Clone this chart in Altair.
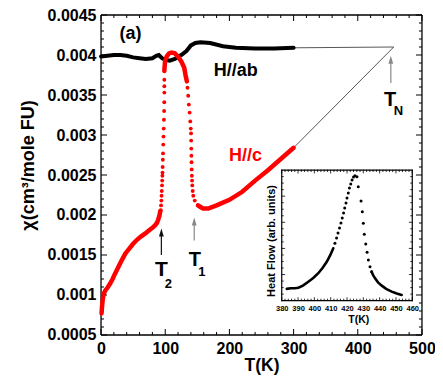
import altair as alt
import pandas as pd

# ---------------- data ----------------
black_T = [0, 10, 20, 30, 40, 50, 60, 70, 80, 86, 90, 95, 100, 107, 115, 125,
           133, 140, 147, 155, 170, 190, 210, 240, 270, 300]
black_chi = [0.00398, 0.00399, 0.00400, 0.00400, 0.00399, 0.00397, 0.00396,
             0.00395, 0.00396, 0.00399, 0.00400, 0.00396, 0.00394, 0.00393,
             0.00395, 0.00400, 0.00405, 0.00412, 0.00415, 0.00416, 0.00415,
             0.00411, 0.00409, 0.00408, 0.00408, 0.00409]
red_low_T = [0.8, 1.5, 2.5, 3.5, 5, 7, 10, 14, 18, 22, 27, 32, 38, 44, 50, 56,
             62, 69, 75, 80, 84, 87, 89, 91, 92.3]
red_low_chi = [0.00077, 0.00085, 0.00093, 0.00099, 0.00103, 0.00106, 0.00109,
               0.00114, 0.00120, 0.00127, 0.00135, 0.00143, 0.00152, 0.00158,
               0.00164, 0.00169, 0.00173, 0.00177, 0.00181, 0.00184, 0.00187,
               0.00190, 0.00194, 0.00199, 0.00205]
red_arc_T = [98.6, 99.7, 102.2, 105.9, 110, 115, 120, 125, 129.6, 131.6, 133.7]
red_arc_chi = [0.00380, 0.00392, 0.00398, 0.00402, 0.00403, 0.00402, 0.00398,
               0.00392, 0.00384, 0.00375, 0.00367]
red_high_T = [151, 155, 159, 167, 180, 200, 220, 240, 260, 280, 300]
red_high_chi = [0.00212, 0.00210, 0.00208, 0.00208, 0.00212, 0.00219, 0.00229,
                0.00243, 0.00256, 0.00270, 0.00284]
red_dot_T = [93, 93.5, 94, 94.3, 94.6, 95, 95.3, 95.6, 95.8, 96, 96.3, 96.6,
             96.9, 97.3, 97.6, 98, 98.3, 98.5, 98.6, 98.6, 98.6,
             134.7, 135.8, 136.8, 138, 139, 139.8, 140.2, 140.4, 140.6, 140.8,
             141, 141.2, 141.5, 141.8, 142.2, 142.8, 143.7, 146, 151]
red_dot_chi = [0.00206, 0.00212, 0.00218, 0.00224, 0.00230, 0.00237, 0.00243,
               0.00249, 0.00253, 0.00260, 0.00269, 0.00277, 0.00288, 0.00298,
               0.00308, 0.00319, 0.00330, 0.00341, 0.00353, 0.00361, 0.00369,
               0.00359, 0.00349, 0.00338, 0.00328, 0.00317, 0.00308, 0.00302,
               0.00293, 0.00283, 0.00274, 0.00266, 0.00257, 0.00249, 0.00243,
               0.00237, 0.00230, 0.00224, 0.00218, 0.00212]
guide_seg = ["ab", "ab", "c", "c"]
guide_T = [300, 456, 300, 456]
guide_chi = [0.00409, 0.00410, 0.00284, 0.00410]
arrow_T = [94, 145.2, 451.5]
arrow_lo = [0.00150, 0.00168, 0.00365]
arrow_hi = [0.00178, 0.00192, 0.00394]
arrow_color = ["#111111", "#888888", "#888888"]
label_text = ["(a)", "H//ab", "H//c", "T", "2", "T", "1", "T", "N"]
label_T = [46, 210, 225, 94, 105, 146, 157, 450.5, 463.5]
label_chi = [0.00426, 0.00380, 0.00274, 0.00131, 0.00114, 0.00144, 0.00129,
             0.00344, 0.00330]
label_size = [18, 18, 18, 21, 13, 20, 13, 20, 13]
label_color = ["black", "black", "red", "black", "black", "black", "black",
               "black", "black"]
inset_lo_T = [383.1, 385.5, 388, 390.2, 393, 396.3, 399.5, 402.4, 405, 407.6,
              409.8, 411.6]
inset_lo_hf = [0.090, 0.095, 0.095, 0.099, 0.115, 0.145, 0.175, 0.210, 0.250,
               0.298, 0.350, 0.401]
inset_dot_T = [412.6, 413.6, 414.5, 415.4, 416.3, 417.1, 417.9, 418.6, 419.4,
               420.0, 420.8, 421.5, 422.3, 423.1, 424.0, 424.9, 426.1, 426.9,
               428.6, 429.4, 430.0, 430.6, 431.5, 432.3, 433.1, 434.1, 435.1]
inset_dot_hf = [0.440, 0.480, 0.518, 0.556, 0.594, 0.633, 0.671, 0.709, 0.748,
                0.786, 0.824, 0.862, 0.893, 0.923, 0.946, 0.956, 0.949, 0.872,
                0.763, 0.681, 0.592, 0.508, 0.434, 0.370, 0.311, 0.260, 0.222]
inset_hi_T = [435.1, 436, 437.2, 439, 441.3, 444, 447.4, 450.5, 453.5]
inset_hi_hf = [0.222, 0.195, 0.171, 0.140, 0.115, 0.090, 0.069, 0.055, 0.044]

x_major = [0, 100, 200, 300, 400, 500]
x_minor = [v for v in range(0, 501, 20) if v % 100 != 0]
y_major = [0.0005, 0.001, 0.0015, 0.002, 0.0025, 0.003, 0.0035, 0.004, 0.0045]
y_minor = [round(0.0005 + 0.0001 * i, 4) for i in range(41)]
y_minor = [v for v in y_minor if v not in y_major]
ix_major = [380, 390, 400, 410, 420, 430, 440, 450, 460]
ix_minor = [v for v in range(380, 461, 2) if v % 10 != 0]
iy_major = [0.2, 0.4, 0.6, 0.8]
iy_minor = [0.05, 0.1, 0.15, 0.25, 0.3, 0.35, 0.45, 0.5, 0.55, 0.65, 0.7,
            0.75, 0.85, 0.9, 0.95]

# ---------------- layout ----------------
FONT = "Liberation Sans"
W, H = 321, 320
XD, YD = [0, 500], [0.0005, 0.0045]          # frame extents (data units)
IXD, IYD = [380, 460], [0, 1]
# scale domains a hair wider than the frames, so no frame point sits exactly
# on a scale boundary
XSC = alt.Scale(domain=[-0.05, 500.05], nice=False, zero=False)
YSC = alt.Scale(domain=[0.0005 - 1e-8, 0.0045 + 1e-8], nice=False, zero=False)
IX0, IX1 = 180.7, 311.3
IY0, IY1 = 285.7, 155.0
IXSC = alt.Scale(domain=[379.98, 460.02], range=[IX0, IX1], nice=False,
                 zero=False)
IYSC = alt.Scale(domain=[-0.0003, 1.0003], range=[IY0, IY1], nice=False,
                 zero=False)


def X(axis=None, scale=XSC, field="T"):
    return alt.X(f"{field}:Q", scale=scale, axis=axis, title=None)


def Y(axis=None, scale=YSC, field="chi"):
    return alt.Y(f"{field}:Q", scale=scale, axis=axis, title=None)


def frame_segments(xd, yd, xvals, yvals, px_x, px_y, major_len, minor_len,
                   prefix, frame_w, tick_w):
    """Frame edges and inward ticks as two-point line segments."""
    segs = [
        ((xd[0], yd[0]), (xd[1], yd[0]), frame_w),
        ((xd[0], yd[1]), (xd[1], yd[1]), frame_w),
        ((xd[0], yd[0]), (xd[0], yd[1]), frame_w),
        ((xd[1], yd[0]), (xd[1], yd[1]), frame_w),
    ]
    for vals, ln in ((xvals[0], major_len), (xvals[1], minor_len)):
        for v in vals:
            segs.append(((v, yd[0]), (v, yd[0] + ln * px_y), tick_w))
            segs.append(((v, yd[1]), (v, yd[1] - ln * px_y), tick_w))
    for vals, ln in ((yvals[0], major_len), (yvals[1], minor_len)):
        for v in vals:
            segs.append(((xd[0], v), (xd[0] + ln * px_x, v), tick_w))
            segs.append(((xd[1], v), (xd[1] - ln * px_x, v), tick_w))
    rows = []
    for i, (p, q, w) in enumerate(segs):
        rows.append((p[0], p[1], f"{prefix}{i}", "black", w))
        rows.append((q[0], q[1], f"{prefix}{i}", "black", w))
    return rows


main_rows = [(t, c, "g" + s, "#444444", 0.9)
             for t, c, s in zip(guide_T, guide_chi, guide_seg)]
main_rows += frame_segments(XD, YD, (x_major, x_minor), (y_major, y_minor),
                            (XD[1] - XD[0]) / W, (YD[1] - YD[0]) / H, 6, 3,
                            "m", 1.3, 1.0)
df_main_seg = pd.DataFrame(main_rows, columns=["T", "chi", "seg", "col", "sw"])

df_black = pd.DataFrame({"T": black_T, "chi": black_chi})
df_red_line = pd.concat([
    pd.DataFrame({"T": red_low_T, "chi": red_low_chi, "seg": "low"}),
    pd.DataFrame({"T": red_arc_T, "chi": red_arc_chi, "seg": "arc"}),
    pd.DataFrame({"T": red_high_T, "chi": red_high_chi, "seg": "high"}),
])
df_red_dot = pd.DataFrame({"T": red_dot_T, "chi": red_dot_chi})
df_arrow = pd.DataFrame({"T": arrow_T, "lo": arrow_lo, "hi": arrow_hi,
                         "col": arrow_color})
df_text = pd.DataFrame({"T": label_T, "chi": label_chi, "txt": label_text,
                        "fs": label_size, "col": label_color})

x_label_axis = alt.Axis(orient="bottom", values=x_major, ticks=False,
                        domain=False, grid=False, labelFlush=False,
                        labelOverlap=False, labelFont=FONT, labelFontSize=16,
                        labelFontWeight="bold", labelColor="black",
                        labelPadding=5, title="T(K)", titleFont=FONT,
                        titleFontSize=17.5, titleFontWeight="bold",
                        titleColor="black", titleAlign="center",
                        titleBaseline="middle", titleY=30.5)
y_label_axis = alt.Axis(orient="left", values=y_major, format=".4~f",
                        ticks=False, domain=False, grid=False,
                        labelFlush=False, labelOverlap=False, labelFont=FONT,
                        labelFontSize=16, labelFontWeight="bold",
                        labelColor="black", labelPadding=5,
                        title="χ(cm³/mole FU)", titleFont=FONT,
                        titleFontSize=18, titleFontWeight="bold",
                        titleColor="black", titleAngle=270,
                        titleAlign="center", titleBaseline="middle",
                        titleX=-73, titleY=150)

segments = alt.Chart(df_main_seg).mark_line().encode(
    x=X(x_label_axis), y=Y(y_label_axis), detail="seg:N",
    color=alt.Color("col:N", scale=None),
    strokeWidth=alt.StrokeWidth("sw:Q", scale=None))
black = alt.Chart(df_black).mark_line(color="black", strokeWidth=4,
                                      strokeCap="round").encode(x=X(), y=Y())
red_line = alt.Chart(df_red_line).mark_line(color="#ff0000", strokeWidth=4.5,
                                            strokeCap="round").encode(
    x=X(), y=Y(), detail="seg:N")
red_dot = alt.Chart(df_red_dot).mark_circle(color="#ff0000", size=15,
                                            opacity=1).encode(x=X(), y=Y())
arrows = alt.Chart(df_arrow).mark_rule(strokeWidth=1.2).encode(
    x=X(), y=Y(field="lo"), y2="hi:Q", color=alt.Color("col:N", scale=None))
heads = alt.Chart(df_arrow).mark_point(shape="M0,-1L-0.6,1L0.6,1Z", size=64,
                                       filled=True, opacity=1).encode(
    x=X(), y=Y(field="hi"), color=alt.Color("col:N", scale=None))
texts = alt.Chart(df_text).mark_text(font=FONT, fontWeight="bold",
                                     align="center", baseline="middle").encode(
    x=X(), y=Y(), text="txt:N", size=alt.Size("fs:Q", scale=None),
    color=alt.Color("col:N", scale=None))

# ---------------- inset ----------------
inset_rows = [(t, h, "lo", "black", 2.6) for t, h in zip(inset_lo_T, inset_lo_hf)]
inset_rows += [(t, h, "hi", "black", 2.6) for t, h in zip(inset_hi_T, inset_hi_hf)]
inset_rows += frame_segments(IXD, IYD, (ix_major, ix_minor), (iy_major, iy_minor),
                             (IXD[1] - IXD[0]) / (IX1 - IX0),
                             (IYD[1] - IYD[0]) / (IY0 - IY1), 3, 1.6,
                             "i", 1.2, 0.8)
df_inset_seg = pd.DataFrame(inset_rows, columns=["Ti", "hf", "seg", "col", "sw"])
df_idot = pd.DataFrame({"Ti": inset_dot_T, "hf": inset_dot_hf})

ix_label_axis = alt.Axis(orient="bottom", offset=IY0 - H, values=ix_major,
                         format="d", ticks=False, domain=False, grid=False,
                         labelFlush=False, labelOverlap=False, labelFont=FONT,
                         labelFontSize=7.5, labelFontWeight="bold",
                         labelColor="black", labelPadding=4, title="T(K)",
                         titleFont=FONT, titleFontSize=10.5,
                         titleFontWeight="bold", titleColor="black",
                         titleX=257.3, titleY=18.6, titleAlign="center",
                         titleBaseline="middle")
iy_title_axis = alt.Axis(orient="left", offset=-IX0, labels=False, ticks=False,
                         domain=False, grid=False,
                         title="Heat Flow (arb. units)", titleFont=FONT,
                         titleFontSize=11, titleFontWeight="bold",
                         titleColor="black", titleAngle=270,
                         titleAlign="center", titleBaseline="middle",
                         titleX=-10, titleY=225.5)


def IX(axis=None, field="Ti"):
    return X(axis, scale=IXSC, field=field)


def IY(axis=None, field="hf"):
    return Y(axis, scale=IYSC, field=field)


iline = alt.Chart(df_inset_seg).mark_line(strokeCap="round").encode(
    x=IX(ix_label_axis), y=IY(iy_title_axis), detail="seg:N",
    color=alt.Color("col:N", scale=None),
    strokeWidth=alt.StrokeWidth("sw:Q", scale=None))
idot = alt.Chart(df_idot).mark_circle(color="black", size=9,
                                      opacity=1).encode(x=IX(), y=IY())

chart = alt.layer(
    segments, black, red_line, red_dot, arrows, heads, texts, iline, idot
).resolve_scale(
    x="independent", y="independent"
).properties(
    width=W, height=H,
    autosize=alt.AutoSizeParams(type="none"),
    padding={"left": 93, "top": 7, "right": 13, "bottom": 40},
).configure_view(stroke=None)

chart.save("out.html", embed_options={"renderer": "svg", "actions": False})
